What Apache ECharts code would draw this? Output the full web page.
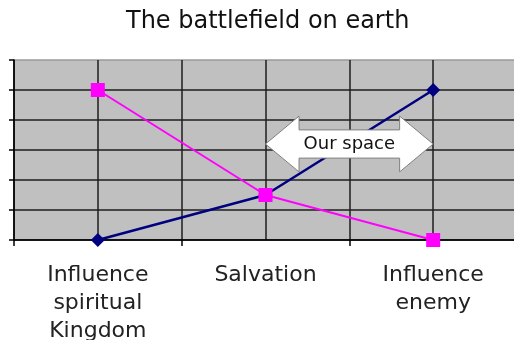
<!DOCTYPE html>
<html>
<head>
<meta charset="utf-8">
<script src="https://cdn.jsdelivr.net/npm/echarts@6/dist/echarts.min.js"></script>
<style>
  html, body { margin: 0; padding: 0; background: #fff; }
  #main { width: 514px; height: 340px; }
</style>
</head>
<body>
<div id="main"></div>
<script>
var categories = ['Influence spiritual Kingdom', 'Salvation', 'Influence enemy'];
var spiritualValues = [0, 1.5, 5];
var enemyValues = [5, 1.5, 0];
var arrowLabel = 'Our space';

var myChart = echarts.init(document.getElementById('main'));
var font = 'DejaVu Sans';
var gridColor = '#1e1e1e';

var option = {
  animation: false,
  title: {
    text: 'The battlefield on earth',
    left: 121,
    top: 5,
    textStyle: { fontFamily: font, fontSize: 24, fontWeight: 'normal', color: '#111' }
  },
  grid: {
    left: 14,
    top: 60,
    width: 503,
    height: 180,
    outerBoundsMode: 'none',
    show: true,
    backgroundColor: '#c0c0c0',
    borderWidth: 0
  },
  xAxis: [
    {
      type: 'category',
      data: categories,
      boundaryGap: true,
      axisLine: { lineStyle: { color: '#000', width: 1.5 } },
      axisTick: { show: true, length: 6, lineStyle: { color: '#000', width: 1.5 } },
      splitLine: { show: false },
      axisLabel: {
        margin: 21,
        fontFamily: font,
        fontSize: 22,
        lineHeight: 28,
        color: '#222',
        interval: 0,
        formatter: function (v) { return v.split(' ').join('\n'); }
      }
    },
    {
      // finer vertical gridlines (half-category steps)
      type: 'value',
      min: 0,
      max: 6,
      interval: 1,
      position: 'bottom',
      axisLine: { show: false },
      axisTick: { show: false },
      axisLabel: { show: false },
      splitLine: { show: true, lineStyle: { color: gridColor, width: 1.5 } }
    }
  ],
  yAxis: {
    type: 'value',
    min: 0,
    max: 6,
    interval: 1,
    axisLine: { show: true, lineStyle: { color: '#000', width: 1.5 } },
    axisTick: { show: true, length: 5, lineStyle: { color: '#000', width: 1.5 } },
    axisLabel: { show: false },
    splitLine: {
      show: true,
      lineStyle: { color: [gridColor, gridColor, gridColor, gridColor, gridColor, gridColor, '#9a9a9a'], width: 1.5 }
    }
  },
  series: [
    {
      name: 'Spiritual',
      type: 'line',
      data: spiritualValues,
      symbol: 'diamond',
      symbolSize: 14,
      lineStyle: { color: '#000080', width: 2.5 },
      itemStyle: { color: '#000080' }
    },
    {
      name: 'Enemy',
      type: 'line',
      data: enemyValues,
      symbol: 'rect',
      symbolSize: 14,
      lineStyle: { color: '#ff00ff', width: 2 },
      itemStyle: { color: '#ff00ff' }
    }
  ]
};

myChart.setOption(option);

// "Our space" double arrow, placed in axis units
function px(x, y) {
  return myChart.convertToPixel({ xAxisIndex: 1, yAxisIndex: 0 }, [x, y]);
}
var yc = 3.2;
var pts = [
  px(3, yc), px(3.4, yc + 0.93), px(3.4, yc + 0.47), px(4.6, yc + 0.47),
  px(4.6, yc + 0.93), px(5, yc), px(4.6, yc - 0.93), px(4.6, yc - 0.47),
  px(3.4, yc - 0.47), px(3.4, yc - 0.93)
];
var mid = px(4, yc);
myChart.setOption({
  graphic: [
    {
      type: 'polygon',
      shape: { points: pts },
      style: { fill: '#fff', stroke: '#808080', lineWidth: 1 },
      z: 100
    },
    {
      type: 'text',
      x: mid[0],
      y: mid[1],
      style: {
        text: arrowLabel,
        fontFamily: font,
        fontSize: 18,
        fill: '#111',
        align: 'center',
        verticalAlign: 'middle'
      },
      z: 101
    }
  ]
});
</script>
</body>
</html>
